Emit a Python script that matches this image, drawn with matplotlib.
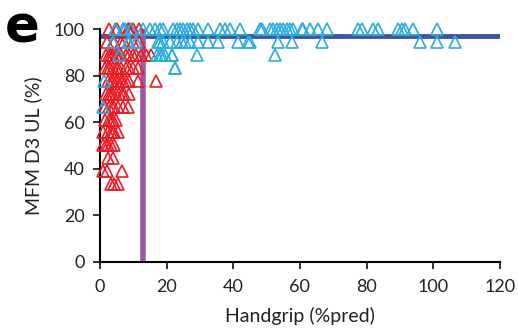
import matplotlib
matplotlib.use('Agg')
import matplotlib.pyplot as plt

plt.rcParams['font.family'] = ['Lato', 'DejaVu Sans']

# red group (handgrip below cut-off)
red_x = [2.7, 8.3, 8.7, 11.7, 5.0, 10.0,
         4.2, 6.3, 9.8, 11.7, 7.2, 2.0,
         1.8, 2.7, 3.8, 4.8, 6.3, 7.8, 8.7, 9.8, 10.8, 12.3, 13.8, 15.3, 5.5, 3.2,
         2.3, 3.8, 4.8, 6.3, 7.8, 9.8, 11.3, 3.0, 5.5, 8.8, 1.5,
         3.3, 4.8, 6.3, 7.8, 8.8, 11.3, 16.8, 2.5, 5.5, 4.0, 7.0,
         1.8, 3.3, 4.8, 5.8, 7.3, 8.8, 2.6, 4.0, 6.5,
         2.8, 4.3, 5.3, 6.8, 8.3, 3.6, 1.5,
         2.7, 3.8, 4.8, 1.5, 3.2,
         0.8, 2.3, 3.3, 4.3, 5.3, 3.8,
         0.8, 1.8, 3.3, 4.3, 2.5,
         2.3, 3.8,
         1.0, 2.0, 6.5,
         3.3, 4.3, 5.3]
red_y = [100, 100, 100, 100, 100, 100,
         94.4, 94.4, 94.4, 94.4, 94.4, 94.4,
         88.9, 88.9, 88.9, 88.9, 88.9, 88.9, 88.9, 88.9, 88.9, 88.9, 88.9, 88.9, 88.9, 88.9,
         83.3, 83.3, 83.3, 83.3, 83.3, 83.3, 83.3, 83.3, 83.3, 83.3, 83.3,
         77.8, 77.8, 77.8, 77.8, 77.8, 77.8, 77.8, 77.8, 77.8, 77.8, 77.8,
         72.2, 72.2, 72.2, 72.2, 72.2, 72.2, 72.2, 72.2, 72.2,
         66.7, 66.7, 66.7, 66.7, 66.7, 66.7, 66.7,
         61.1, 61.1, 61.1, 61.1, 61.1,
         55.6, 55.6, 55.6, 55.6, 55.6, 55.6,
         50, 50, 50, 50, 50,
         44.4, 44.4,
         38.9, 38.9, 38.9,
         33.3, 33.3, 33.3]

# blue group
blue_x = [6.8, 7.5, 9.2, 4.5,
          3.8, 8.3, 8.7, 10.8, 17.4,
          5.8, 17.0, 18.5, 21.5,
          22.5, 1.3, 0.8,
          13, 15, 16.5, 18, 19, 22, 23, 24, 25, 26, 27, 28, 29.5, 32.5, 36, 37.5, 39, 42, 48,
          18, 19, 21, 23, 24.5, 25.5, 27, 29.5, 32.5, 35.5, 41.5, 44.5,
          18, 19.5, 21.5, 29, 22.5,
          48.5, 51, 52, 53, 54, 55, 56, 57, 58, 60.5, 61, 63, 65.5, 68, 77.5,
          45, 53.5, 57.5, 66.5, 52.5,
          78.5, 82, 83.5, 89.5, 90.5, 91.5, 94, 101,
          96, 101, 106.5]
blue_y = [100, 100, 100, 100,
          94.4, 94.4, 94.4, 94.4, 94.4,
          88.9, 88.9, 88.9, 88.9,
          83.3, 77.8, 66.7,
          100, 100, 100, 100, 100, 100, 100, 100, 100, 100, 100, 100, 100, 100, 100, 100, 100, 100, 100,
          94.4, 94.4, 94.4, 94.4, 94.4, 94.4, 94.4, 94.4, 94.4, 94.4, 94.4, 94.4,
          88.9, 88.9, 88.9, 88.9, 83.3,
          100, 100, 100, 100, 100, 100, 100, 100, 100, 100, 100, 100, 100, 100, 100,
          94.4, 94.4, 94.4, 94.4, 88.9,
          100, 100, 100, 100, 100, 100, 100, 100,
          94.4, 94.4, 94.4]

cut_x = 13
cut_y = 97.2

fig = plt.figure(figsize=(5.18, 3.34), dpi=100)
ax = fig.add_axes([0.193, 0.216, 0.772, 0.697])

ax.plot(red_x, red_y, linestyle='none', marker='^', markersize=8.7,
        markerfacecolor='none', markeredgecolor='#ED1C24', markeredgewidth=1.2, clip_on=False, zorder=3)
ax.plot(blue_x, blue_y, linestyle='none', marker='^', markersize=8.7,
        markerfacecolor='none', markeredgecolor='#29ABE2', markeredgewidth=1.2, clip_on=False, zorder=3)

ax.axhline(cut_y, color='#3C55A5', linewidth=3.5, zorder=2)
ax.axvline(cut_x, color='#9B59A8', linewidth=4, zorder=2)

ax.set_xlim(0, 120)
ax.set_ylim(0, 100)
ax.set_xticks(range(0, 121, 20))
ax.set_yticks(range(0, 101, 20))
ax.spines['top'].set_visible(False)
ax.spines['right'].set_visible(False)
ax.spines['left'].set_linewidth(1.5)
ax.spines['bottom'].set_linewidth(1.5)
ax.tick_params(direction='out', length=5, width=1.3, labelsize=13, colors='#222222')
ax.tick_params(axis='x', pad=7)
ax.tick_params(axis='y', pad=6)
ax.set_xlabel('Handgrip (%pred)', fontsize=14, color='#222222', labelpad=9)
ax.set_ylabel('MFM D3 UL (%)', fontsize=14, color='#222222', labelpad=8)

fig.text(0.01, 0.99, 'e', fontsize=37, fontweight='bold', va='top', ha='left', family='DejaVu Sans')

fig.savefig('out.png', dpi=100)
